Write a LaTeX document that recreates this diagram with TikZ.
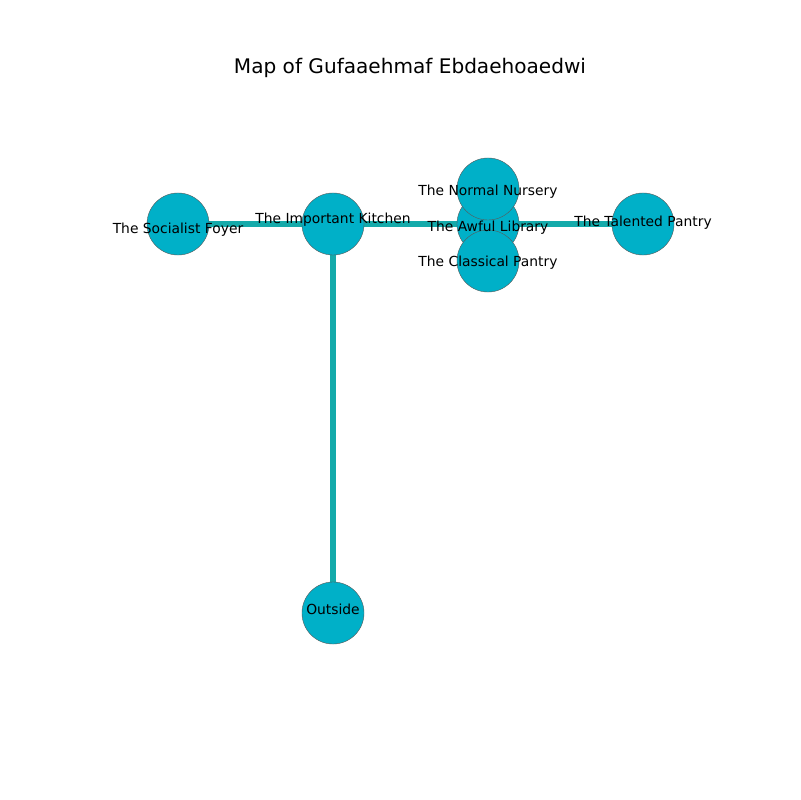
\documentclass[tikz,border=0pt]{standalone}
\usepackage{fontspec}
\setmainfont{DejaVu Sans}
\usetikzlibrary{backgrounds}
\definecolor{roomfill}{RGB}{0,176,200}
\definecolor{hallway}{RGB}{20,170,170}
\begin{document}
\begin{tikzpicture}[x=0.01in, y=-0.01in,
	            every circle node/.style={
	            draw=black!65,
	            line width=0.3pt,
	            fill=roomfill,
	            inner sep=0pt
	            },
	            room/.style={circle, minimum size=0.62in},
	            hall/.style={hallway, line width=4pt},
	            lbl/.style={font=\fontsize{10}{12}\selectfont, inner sep=0pt}]
	        \useasboundingbox (0,0) rectangle (800,800);

	        \node[font=\fontsize{14.5}{17}\selectfont] (title) at (410,68) {Map of Gufaaehmaf Ebdaehoaedwi};

	        \node[room] (foyer) at (178,224) {};
	        \node[room] (kitchen) at (333,224) {};
	        \node[room] (library) at (488,224) {};
	        \node[room] (nursery) at (488,189) {};
	        \node[room] (classical) at (488,261) {};
	        \node[room] (talented) at (643,224) {};
	        \node[room] (outside) at (333,613) {};

	        \begin{scope}[on background layer]
	        \draw[hall] (foyer.center) -- (kitchen.center);
	        \draw[hall] (kitchen.center) -- (library.center);
	        \draw[hall] (library.center) -- (talented.center);
	        \draw[hall] (kitchen.center) -- (outside.center);
	        \end{scope}

	        \node[lbl] (lfoyer) at (178,230) {The Socialist Foyer};
	        \node[lbl] (lkitchen) at (333,220) {The Important Kitchen};
	        \node[lbl] (llibrary) at (488,228) {The Awful Library};
	        \node[lbl] (lnursery) at (488,192) {The Normal Nursery};
	        \node[lbl] (lclassical) at (488,263) {The Classical Pantry};
	        \node[lbl] (ltalented) at (643,223) {The Talented Pantry};
	        \node[lbl] (loutside) at (333,609) {Outside};

	    \end{tikzpicture}
\end{document}
